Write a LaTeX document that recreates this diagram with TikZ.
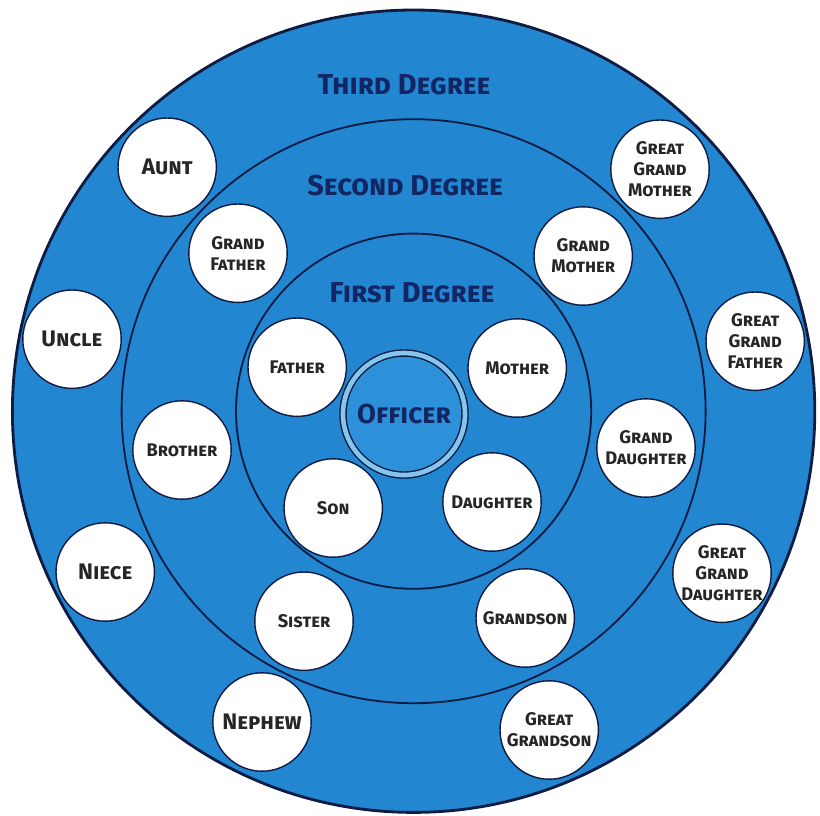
\documentclass[tikz,border=0pt]{standalone}
\usepackage{fontspec}
\setmainfont{Fira Sans}
\usepackage{tikz}

\definecolor{ringblue}{RGB}{34,134,208}
\definecolor{ringline}{RGB}{14,28,68}
\definecolor{labelnavy}{RGB}{18,38,100}
\definecolor{gapblue}{RGB}{135,198,236}
\definecolor{officerblue}{RGB}{44,145,216}

\begin{document}
\begin{tikzpicture}[
  person/.style={draw=ringline, line width=1pt, fill=white, circle, minimum size=2.46cm, inner sep=0pt, align=center, text=black!85, font=\fontsize{13}{15}\selectfont\bfseries\scshape},
  bigperson/.style={person, font=\fontsize{16}{18}\selectfont\bfseries\scshape},
  degreelabel/.style={text=labelnavy, font=\fontsize{20.5}{24}\selectfont\bfseries\scshape},
  bandline/.style={draw=ringline, line width=1.3pt}
]
\useasboundingbox (0,0) rectangle (20.5,-20.375);
\draw[bandline, line width=2pt, fill=ringblue] (10.34,-10.28) circle (10.03cm);
\draw[bandline] (10.34,-10.28) circle (7.3cm);
\draw[bandline] (10.34,-10.28) circle (4.44cm);
\node[circle, fill=officerblue, draw=ringline, line width=1pt, double=gapblue, double distance=3.3pt, minimum size=3.05cm, text=labelnavy, font=\fontsize{19.5}{22}\selectfont\bfseries\scshape] (G0NOfficer) at (10.1,-10.35) {Officer};
\node[degreelabel] (G3Ntitle) at (10.1,-2.13) {Third Degree};
\node[degreelabel] (G2Ntitle) at (10.13,-4.63) {Second Degree};
\node[degreelabel] (G1Ntitle) at (10.3,-7.33) {First Degree};
\node[person] (G1NFather) at (7.43,-9.18) {Father};
\node[person] (G1NMother) at (12.93,-9.2) {Mother};
\node[person] (G1NSon) at (8.33,-12.7) {Son};
\node[person] (G1NDaughter) at (12.3,-12.55) {Daughter};
\node[person] (G2NGrandFather) at (5.95,-6.33) {Grand\\Father};
\node[person] (G2NGrandMother) at (14.58,-6.4) {Grand\\Mother};
\node[person] (G2NBrother) at (4.55,-11.25) {Brother};
\node[person] (G2NGrandDaughter) at (16.15,-11.2) {Grand\\Daughter};
\node[person] (G2NSister) at (7.6,-15.53) {Sister};
\node[person] (G2NGrandson) at (13.13,-15.45) {Grandson};
\node[bigperson] (G3NAunt) at (4.18,-4.18) {Aunt};
\node[bigperson] (G3NUncle) at (1.8,-8.48) {Uncle};
\node[bigperson] (G3NNiece) at (2.63,-14.3) {Niece};
\node[bigperson] (G3NNephew) at (6.55,-18.05) {Nephew};
\node[person] (G3NGreatGrandson) at (13.73,-18.25) {Great\\Grandson};
\node[person] (G3NGreatGrandDaughter) at (18.05,-14.33) {Great\\Grand\\Daughter};
\node[person] (G3NGreatGrandFather) at (18.88,-8.53) {Great\\Grand\\Father};
\node[person] (G3NGreatGrandMother) at (16.5,-4.23) {Great\\Grand\\Mother};
\end{tikzpicture}
\end{document}
